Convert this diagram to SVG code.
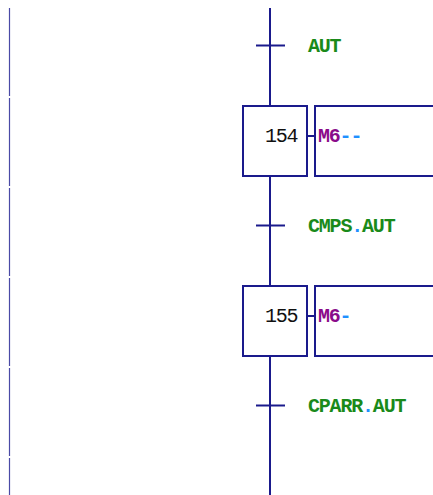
<svg xmlns="http://www.w3.org/2000/svg" width="433" height="495" viewBox="0 0 433 495">
<style>
.rail{stroke:#4a4aa6;stroke-width:1.2;fill:none}
.ln{stroke:#1a1a8c;stroke-width:2;fill:none}
.box{stroke:#1a1a8c;stroke-width:2;fill:#fff}
.t{font-family:"Liberation Mono","Courier New",monospace;font-weight:bold;font-size:20px;letter-spacing:-1.2px}
.n{font-family:"Liberation Mono","Courier New",monospace;font-size:20px;letter-spacing:-1.2px}
.g{fill:#1a8a1a}
.b{fill:#1e90ff}
.p{fill:#8a0a8a}
.k{fill:#111}
</style>
<rect width="433" height="495" fill="#fff"/>
<g id="rail">
<line class="rail" x1="9.5" y1="8" x2="9.5" y2="96"/>
<line class="rail" x1="9.5" y1="98" x2="9.5" y2="186"/>
<line class="rail" x1="9.5" y1="188" x2="9.5" y2="276"/>
<line class="rail" x1="9.5" y1="278" x2="9.5" y2="366"/>
<line class="rail" x1="9.5" y1="368" x2="9.5" y2="456"/>
<line class="rail" x1="9.5" y1="458" x2="9.5" y2="495"/>
</g>
<g id="connectors">
<line class="ln" x1="270" y1="8" x2="270" y2="106"/>
<line class="ln" x1="270" y1="176" x2="270" y2="286"/>
<line class="ln" x1="270" y1="356" x2="270" y2="495"/>
<line class="ln" x1="307" y1="136" x2="315" y2="136"/>
<line class="ln" x1="307" y1="316" x2="315" y2="316"/>
</g>
<g id="t_aut">
<line class="ln" x1="256" y1="45.5" x2="285" y2="45.5"/>
<text class="t g" x="308" y="52">AUT</text>
</g>
<g id="step154">
<rect class="box" x="243" y="106" width="64" height="70"/>
<text class="n k" x="265" y="142">154</text>
</g>
<g id="action154">
<rect class="box" x="315" y="106" width="130" height="70"/>
<text class="t" x="318" y="142"><tspan class="p">M6</tspan><tspan class="b">--</tspan></text>
</g>
<g id="t_cmps">
<line class="ln" x1="256" y1="225.5" x2="285" y2="225.5"/>
<text class="t g" x="308" y="232">CMPS<tspan class="b">.</tspan>AUT</text>
</g>
<g id="step155">
<rect class="box" x="243" y="286" width="64" height="70"/>
<text class="n k" x="265" y="322">155</text>
</g>
<g id="action155">
<rect class="box" x="315" y="286" width="130" height="70"/>
<text class="t" x="318" y="322"><tspan class="p">M6</tspan><tspan class="b">-</tspan></text>
</g>
<g id="t_cparr">
<line class="ln" x1="256" y1="405.5" x2="285" y2="405.5"/>
<text class="t g" x="308" y="412">CPARR<tspan class="b">.</tspan>AUT</text>
</g>
</svg>
